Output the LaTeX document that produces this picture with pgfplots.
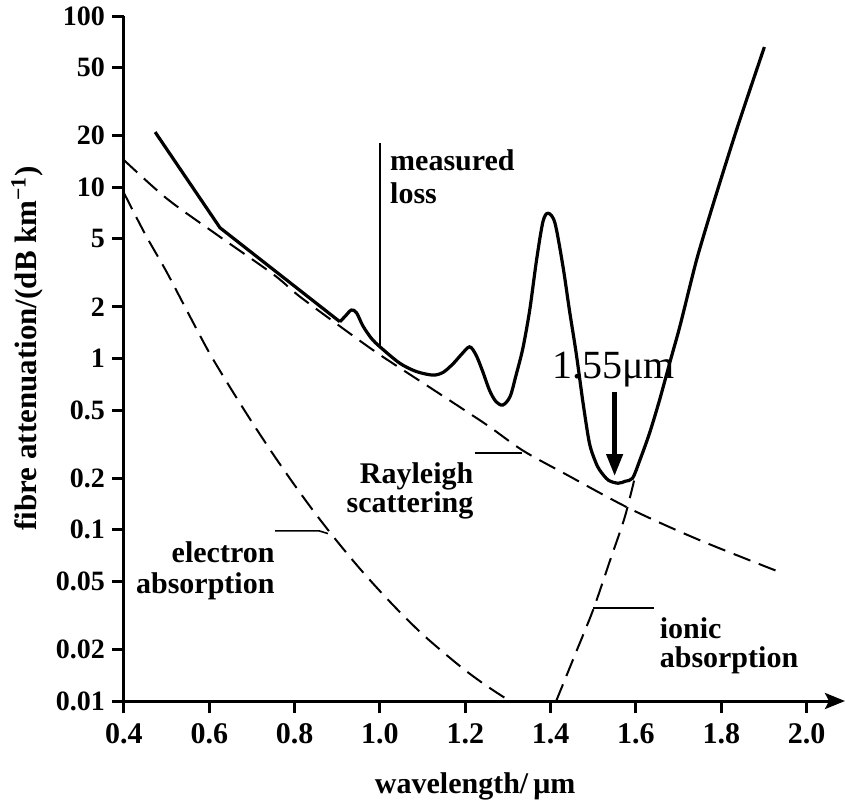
\documentclass[border=0pt]{standalone}
\usepackage{fontspec}
\setmainfont{Liberation Serif}
\usepackage{pgfplots}
\pgfplotsset{compat=1.18}
\usetikzlibrary{arrows.meta}
\begin{document}
\begin{tikzpicture}
\begin{axis}[
  scale only axis, width=360.5pt, height=342.5pt,
  xmin=0.4, xmax=2.09, ymode=log, ymin=0.01, ymax=100,
  axis x line=bottom, axis y line=left,
  axis line style={line width=1.5pt},
  x axis line style={-{Stealth[length=10pt,width=8pt,inset=2pt]}},
  y axis line style={-},
  xtick={0.4,0.6,0.8,1.0,1.2,1.4,1.6,1.8,2.0},
  xticklabels={0.4,0.6,0.8,1.0,1.2,1.4,1.6,1.8,2.0},
  ytick={0.01,0.02,0.05,0.1,0.2,0.5,1,2,5,10,20,50,100},
  yticklabels={0.01,0.02,0.05,0.1,0.2,0.5,1,2,5,10,20,50,100},
  yminorticks=false, xminorticks=false,
  tick align=outside, major tick length=6pt,
  tick style={line width=1.5pt, black},
  yticklabel style={font=\fontsize{14}{14}\selectfont\bfseries},
  xticklabel style={font=\fontsize{15}{15}\selectfont\bfseries, yshift=-2pt},
  xlabel={wavelength/\,μm},
  ylabel={fibre attenuation/(dB km\textsuperscript{−1})},
  xlabel style={at={(axis description cs:0.487,0)}, anchor=base, yshift=-46pt, font=\fontsize{15}{15}\selectfont\bfseries},
  ylabel style={at={(axis description cs:-0.1345,0.515)}, anchor=center, rotate=0, font=\fontsize{15.5}{15.5}\selectfont\bfseries},
  clip=false,
]
% measured loss
\addplot[black, line width=1.6pt] coordinates {
(0.473,21.0) (0.625,5.8) (0.906,1.64)};
\addplot[black, line width=1.6pt, smooth, tension=0.5] coordinates {
(0.906,1.64) (0.918,1.76) (0.933,1.92) (0.945,1.85) (0.96,1.55) (0.98,1.31)
(1.0,1.17) (1.046,0.94) (1.085,0.84) (1.124,0.80) (1.148,0.83) (1.171,0.93)
(1.19,1.05) (1.21,1.17) (1.225,1.05) (1.24,0.85) (1.257,0.65) (1.272,0.56)
(1.288,0.535) (1.305,0.6) (1.319,0.8) (1.335,1.15) (1.351,1.92) (1.367,3.76)
(1.382,6.3) (1.394,7.05) (1.41,6.2) (1.429,3.44) (1.444,1.92)
(1.46,1.07) (1.476,0.55) (1.491,0.32) (1.505,0.25) (1.515,0.223) (1.535,0.195)
(1.558,0.187) (1.575,0.192) (1.592,0.200) (1.6084,0.252) (1.6319,0.367) (1.6553,0.572)
(1.681,0.98) (1.702,1.51) (1.730,2.87) (1.7466,4.13) (1.784,8.43) (1.838,22.5) (1.901,65.9)};
% Rayleigh scattering
\addplot[black, line width=1pt, dash pattern=on 9pt off 4.5pt, smooth] coordinates {
(0.40,14.4) (0.50,8.6) (0.617,5.3) (0.75,3.1) (0.812,2.3) (0.921,1.45) (1.00,1.05)
(1.124,0.66) (1.25,0.41) (1.335,0.29) (1.437,0.21) (1.585,0.133) (1.749,0.087) (1.944,0.0557)};
% electron absorption
\addplot[black, line width=1pt, dash pattern=on 9pt off 4.5pt, smooth] coordinates {
(0.40,9.25) (0.45,5.3) (0.50,3.2) (0.55,1.85) (0.60,1.08) (0.65,0.67) (0.70,0.425)
(0.75,0.275) (0.80,0.182) (0.85,0.123) (0.90,0.0853) (0.95,0.0604) (1.00,0.0438)
(1.05,0.0324) (1.10,0.0245) (1.15,0.0191) (1.20,0.0151) (1.25,0.01225) (1.304,0.0100)};
% ionic absorption
\addplot[black, line width=1pt, dash pattern=on 9pt off 4.5pt, smooth] coordinates {
(1.413,0.010) (1.46,0.0194) (1.4995,0.034) (1.54,0.067) (1.574,0.119) (1.600,0.215)};
% leaders
\draw[line width=0.8pt] (axis cs:1.0,18.1) -- (axis cs:1.0,1.17);
\draw[line width=0.8pt] (axis cs:1.222,0.2806) -- (axis cs:1.334,0.2806);
\draw[line width=0.8pt] (axis cs:0.754,0.0986) -- (axis cs:0.857,0.0986) -- (axis cs:0.878,0.095);
\draw[line width=0.8pt] (axis cs:1.4995,0.0349) -- (axis cs:1.642,0.0349);
% labels
\tikzset{lab/.style={inner sep=0pt, font=\fontsize{15}{15}\selectfont\bfseries}}
\node[lab, anchor=base west] at (axis cs:1.023,12.6) {measured};
\node[lab, anchor=base west] at (axis cs:1.023,8.09) {loss};
\node[lab, anchor=base east] at (axis cs:1.2197,0.1875) {Rayleigh};
\node[lab, anchor=base east] at (axis cs:1.2197,0.1253) {scattering};
\node[lab, anchor=base east] at (axis cs:0.7536,0.0648) {electron};
\node[lab, anchor=base east] at (axis cs:0.7536,0.0427) {absorption};
\node[lab, anchor=base west] at (axis cs:1.655,0.0233) {ionic};
\node[lab, anchor=base west] at (axis cs:1.655,0.0156) {absorption};
\node[inner sep=0pt, anchor=base, font=\fontsize{20}{20}\selectfont] at (axis cs:1.5475,0.769) {1.55μm};
\draw[line width=2.2pt, -{Triangle[length=11pt,width=8pt]}] (axis cs:1.55,0.637) -- (axis cs:1.55,0.206);
\coordinate (O) at (axis cs:0.4,0.01);
\end{axis}
\pgfresetboundingbox
\path[use as bounding box] ([shift={(-62pt,-51pt)}]O) rectangle ([shift={(360.5pt,350.5pt)}]O);
\end{tikzpicture}
\end{document}
